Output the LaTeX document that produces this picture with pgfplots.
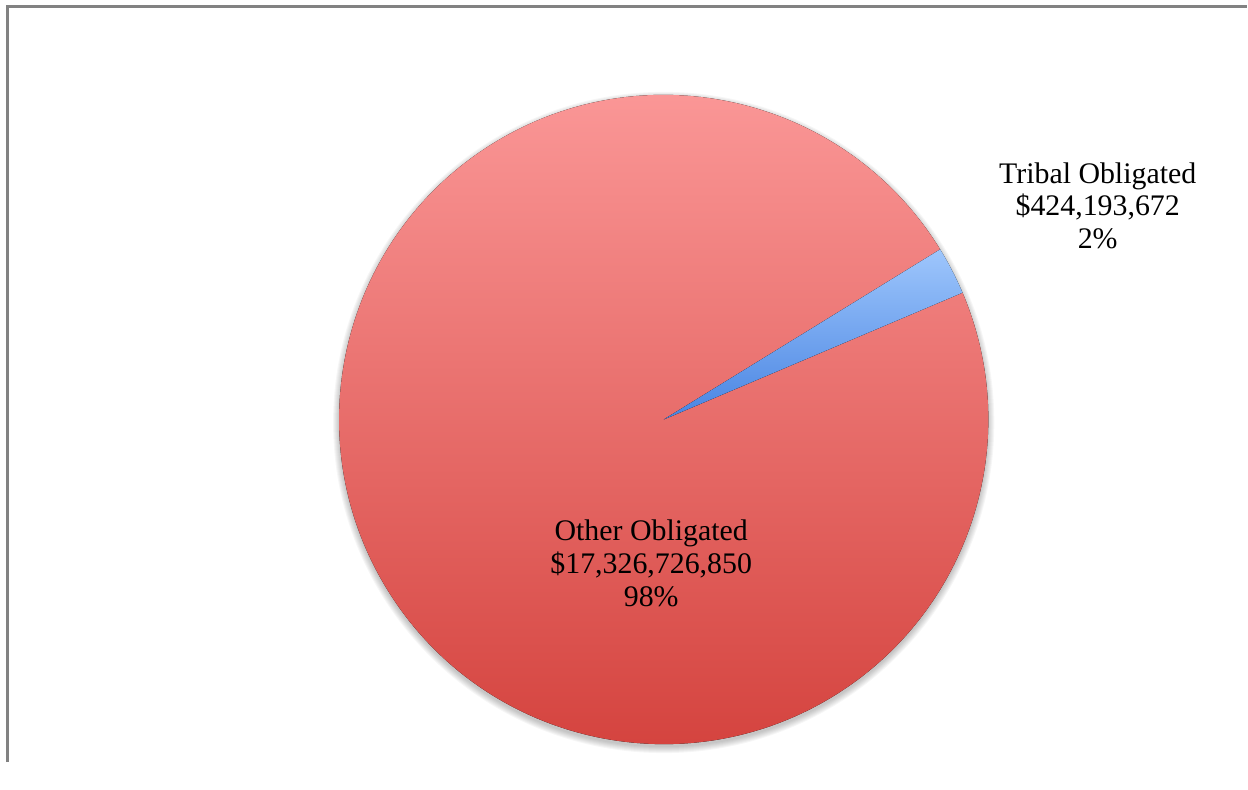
\documentclass[border=0pt]{standalone}
\usepackage{pgfplots}
\pgfplotsset{compat=1.18}
\usepackage{pgfplotstable}
\usepackage{fontspec}
\setmainfont{Liberation Serif}
\definecolor{pietop}{RGB}{253,156,156}
\definecolor{piebot}{RGB}{210,62,57}
\definecolor{bluetop}{RGB}{158,198,252}
\definecolor{bluebot}{RGB}{72,132,226}
\definecolor{frame}{RGB}{130,130,130}
\pgfplotstableread{
label value
Tribal 424193672
Other 17326726850
}\piedata
\pgfplotstablegetelem{0}{value}\of\piedata \let\vT\pgfplotsretval
\pgfplotstablegetelem{1}{value}\of\piedata \let\vO\pgfplotsretval
\edef\startT{23}
\edef\endT{\fpeval{23+360*\vT/(\vT+\vO)}}
\edef\endO{\fpeval{23+360}}
\begin{document}
\begin{tikzpicture}
\begin{axis}[width=1248bp,height=763bp,scale only axis,
  xmin=0,xmax=1248,ymin=0,ymax=763,hide axis,clip=false]
\path (axis cs:0,0) rectangle (axis cs:1248,763);
\draw[frame,line width=3bp] (axis cs:8,0) -- (axis cs:8,756) -- (axis cs:1248,756);
\coordinate (C) at (axis cs:664.5,343);
\pgfplotsinvokeforeach{1,...,7}{
  \fill[black,opacity=0.035] (C) ++(0,-3bp) circle[radius=324bp+#1bp];
}
\fill[top color=pietop,bottom color=piebot] (C) -- ++(\endT:325bp)
  arc[start angle=\endT,end angle=\endO,radius=325bp] -- cycle;
\fill[top color=bluetop,bottom color=bluebot] (C) -- ++(\startT:325bp)
  arc[start angle=\startT,end angle=\endT,radius=325bp] -- cycle;
\node[align=center,font=\fontsize{30}{33}\selectfont] at (axis cs:1099,557)
  {Tribal Obligated\\\$424,193,672\\2\%};
\node[align=center,font=\fontsize{30}{33}\selectfont] at (axis cs:652,199)
  {Other Obligated\\\$17,326,726,850\\98\%};
\end{axis}
\end{tikzpicture}
\end{document}
